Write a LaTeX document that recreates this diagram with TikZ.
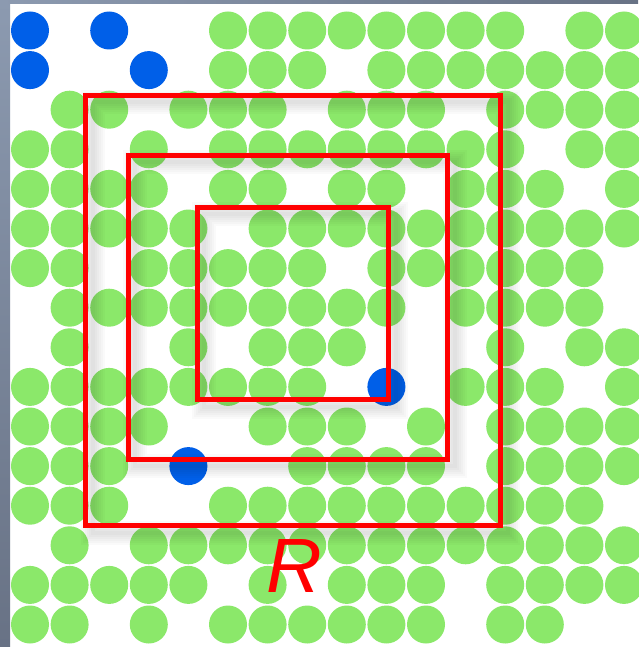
\documentclass[tikz,border=0pt]{standalone}
\usepackage{fontspec}
\newfontfamily\labelfont{Liberation Sans}
\definecolor{dotgreen}{HTML}{8BE86A}
\definecolor{dotblue}{HTML}{005FE8}
\definecolor{framelight}{HTML}{8C9AB0}
\definecolor{framedark}{HTML}{687285}

\begin{document}
\begin{tikzpicture}[x=1pt,y=-1pt,
 gdot/.style={fill=dotgreen},
 bdot/.style={fill=dotblue},
 box/.style={draw=red,line width=5pt},
 boxshadow/.style={draw=black,opacity=0.02}
]
\useasboundingbox (0,0) rectangle (638,647);
\fill[white] (0,0) rectangle (638,647);
% window frame
\shade[top color=framelight,bottom color=framedark] (0,0) rectangle (10,647);
\shade[left color=framelight,right color=framedark] (0,0) rectangle (638,4);
% green dots, row / columns
\foreach \r/\cols in {0/{5,6,7,8,9,10,11,12,14,15},
  1/{5,6,7,9,10,11,12,13,14,15},
  2/{1,2,4,5,6,8,9,10,12,13,14,15},
  3/{0,1,3,5,6,7,8,9,10,11,12,14,15},
  4/{0,1,2,3,5,6,8,9,11,12,13,15},
  5/{0,1,2,3,4,6,7,8,9,10,11,12,13,14,15},
  6/{0,1,3,4,5,6,7,9,10,11,12,13,14},
  7/{1,2,3,4,5,6,7,8,9,11,12,13,14},
  8/{1,4,6,7,8,12,14,15},
  9/{0,1,2,3,4,5,6,7,11,12,13,15},
  10/{0,1,2,3,6,7,8,10,12,13,14,15},
  11/{0,1,2,7,8,9,10,12,13,14,15},
  12/{0,1,2,5,6,7,8,9,10,11,12,13,14},
  13/{1,3,4,5,6,7,8,9,10,11,12,13,14,15},
  14/{0,1,2,3,4,6,8,9,10,12,13,14,15},
  15/{0,1,3,5,6,7,8,9,10,12,13}}
  \foreach \c in \cols
    \fill[gdot] (30+39.6*\c,30.5+39.6*\r) circle (19pt);
% blue dots
\foreach \c/\r in {0/0,2/0,0/1,3/1,9/9,4/11}
  \fill[bdot] (30+39.6*\c,30.5+39.6*\r) circle (19pt);
% nested boxes
\coordinate (outer a) at (85.5,95.5);  \coordinate (outer b) at (500.5,525.5);
\coordinate (mid a) at (128,155.5);    \coordinate (mid b) at (447.5,459);
\coordinate (inner a) at (197,207);    \coordinate (inner b) at (388.5,399.5);
\foreach \b in {outer,mid,inner}{
  \foreach \w in {4,8,...,24}
    \draw[boxshadow,line width=\w pt] ([shift={(7,7)}]\b\space a) rectangle ([shift={(7,7)}]\b\space b);
}
\draw[box] (outer a) rectangle (outer b);
\draw[box] (mid a) rectangle (mid b);
\draw[box] (inner a) rectangle (inner b);
\node[text=red,font=\labelfont\itshape\fontsize{77}{77}\selectfont,inner sep=0pt] (lbl) at (294,566) {R};
\end{tikzpicture}
\end{document}
